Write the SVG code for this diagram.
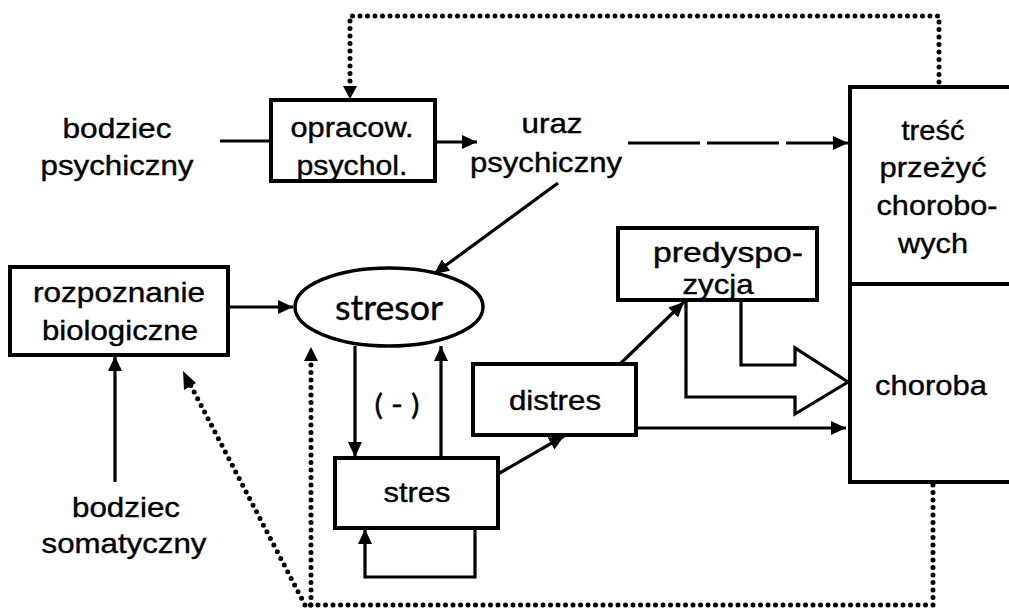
<svg xmlns="http://www.w3.org/2000/svg" width="1009" height="611" viewBox="0 0 1009 611">
<style>
.t{font-family:"Liberation Sans",Arial,sans-serif;font-size:28px;fill:#000;stroke:#000;stroke-width:0.4;text-anchor:middle}
.c{font-family:Lato,"Open Sans",sans-serif;font-size:34px;fill:#000;stroke:#000;stroke-width:0.4;text-anchor:middle}
.box{fill:#fff;stroke:#000;stroke-width:4}
.ln{fill:none;stroke:#000;stroke-width:3.2}
.dot{fill:none;stroke:#000;stroke-width:5;stroke-linecap:round;stroke-dasharray:0 7.5}
.dash{fill:none;stroke:#000;stroke-width:3.2;stroke-dasharray:72 7}
</style>
<defs>
<marker id="ah" markerUnits="userSpaceOnUse" markerWidth="16" markerHeight="14" refX="15" refY="7" orient="auto">
<path d="M0,0 L15,7 L0,14 z" fill="#000"/>
</marker>
</defs>
<rect width="1009" height="611" fill="#fff"/>

<g id="connectors">
<path class="dot" d="M939,82 L939,16 L350,16 L350,86"/>
<path d="M343,86 L357,86 L350,99 z" fill="#000"/>
<path class="ln" d="M220,141 L270,141"/>
<path class="ln" d="M435,142 L477,142" marker-end="url(#ah)"/>
<path class="dash" d="M628,143 L848,143" marker-end="url(#ah)"/>
<path class="ln" d="M558,183 L434,274" marker-end="url(#ah)"/>
<path class="ln" d="M228,307 L293,307" marker-end="url(#ah)"/>
<path class="ln" d="M115,482 L115,356" marker-end="url(#ah)"/>
<path class="ln" d="M355,346 L355,457" marker-end="url(#ah)"/>
<path class="ln" d="M441,465 L441,346" marker-end="url(#ah)"/>
<path class="ln" d="M475,528 L475,577 L365,577 L365,529" marker-end="url(#ah)"/>
<path class="ln" d="M498,474 L564,436" marker-end="url(#ah)"/>
<path class="ln" d="M620,364 L684,302" marker-end="url(#ah)"/>
<path class="ln" d="M636,428 L846,428" marker-end="url(#ah)"/>
<path class="ln" d="M741,300 L741,365 L795,365 L795,348 L848,382 L795,414 L795,397 L686,397 L686,300"/>
<path class="dot" d="M933,485 L933,605 L306,605"/>
<path class="dot" d="M311,605 L311,360"/>
<path d="M304,361 L318,361 L311,347 z" fill="#000"/>
<path class="dot" d="M305,605 L190,384"/>
<path d="M184,390 L196,383 L183,371 z" fill="#000"/>
</g>

<g id="bodziec-psychiczny">
<text class="t" x="117" y="138" textLength="109" lengthAdjust="spacingAndGlyphs">bodziec</text>
<text class="t" x="117" y="175" textLength="153" lengthAdjust="spacingAndGlyphs">psychiczny</text>
</g>

<g id="opracow">
<rect class="box" x="271" y="100" width="164" height="81"/>
<text class="t" x="352" y="137" textLength="123" lengthAdjust="spacingAndGlyphs">opracow.</text>
<text class="t" x="352" y="175" textLength="111" lengthAdjust="spacingAndGlyphs">psychol.</text>
</g>

<g id="uraz">
<text class="t" x="552" y="133" textLength="61" lengthAdjust="spacingAndGlyphs">uraz</text>
<text class="t" x="546" y="172" textLength="152" lengthAdjust="spacingAndGlyphs">psychiczny</text>
</g>

<g id="tresc-choroba">
<path d="M1012,87 L850,87 L850,482 L1012,482 M850,284 L1012,284" fill="none" stroke="#000" stroke-width="4"/>
<text class="t" x="933" y="140" textLength="63" lengthAdjust="spacingAndGlyphs">treść</text>
<text class="t" x="933" y="177" textLength="107" lengthAdjust="spacingAndGlyphs">przeżyć</text>
<text class="t" x="937" y="215" textLength="121" lengthAdjust="spacingAndGlyphs">chorobo-</text>
<text class="t" x="933" y="253" textLength="70" lengthAdjust="spacingAndGlyphs">wych</text>
<text class="t" x="931" y="395" textLength="112" lengthAdjust="spacingAndGlyphs">choroba</text>
</g>

<g id="rozpoznanie">
<rect class="box" x="10" y="267" width="218" height="88"/>
<text class="t" x="119" y="302" textLength="172" lengthAdjust="spacingAndGlyphs">rozpoznanie</text>
<text class="t" x="120" y="340" textLength="156" lengthAdjust="spacingAndGlyphs">biologiczne</text>
</g>

<g id="bodziec-somatyczny">
<text class="t" x="126" y="517" textLength="108" lengthAdjust="spacingAndGlyphs">bodziec</text>
<text class="t" x="124" y="553" textLength="165" lengthAdjust="spacingAndGlyphs">somatyczny</text>
</g>

<g id="stresor">
<ellipse cx="389" cy="307" rx="94" ry="39" fill="#fff" stroke="#000" stroke-width="3.5"/>
<text class="c" x="389" y="320" textLength="108" lengthAdjust="spacingAndGlyphs">stresor</text>
</g>

<g id="minus-label">
<text class="c" x="397" y="415" style="font-size:28px" textLength="45" lengthAdjust="spacingAndGlyphs">( - )</text>
</g>

<g id="stres">
<rect class="box" x="335" y="458" width="163" height="70"/>
<text class="t" x="417" y="502" textLength="67" lengthAdjust="spacingAndGlyphs">stres</text>
</g>

<g id="distres">
<rect class="box" x="473" y="364" width="163" height="71"/>
<text class="t" x="555" y="410" textLength="92" lengthAdjust="spacingAndGlyphs">distres</text>
</g>

<g id="predyspozycja">
<rect class="box" x="618" y="228" width="199" height="72"/>
<text class="t" x="728" y="262" textLength="150" lengthAdjust="spacingAndGlyphs">predyspo-</text>
<text class="t" x="718" y="294" textLength="71" lengthAdjust="spacingAndGlyphs">zycja</text>
</g>
</svg>
